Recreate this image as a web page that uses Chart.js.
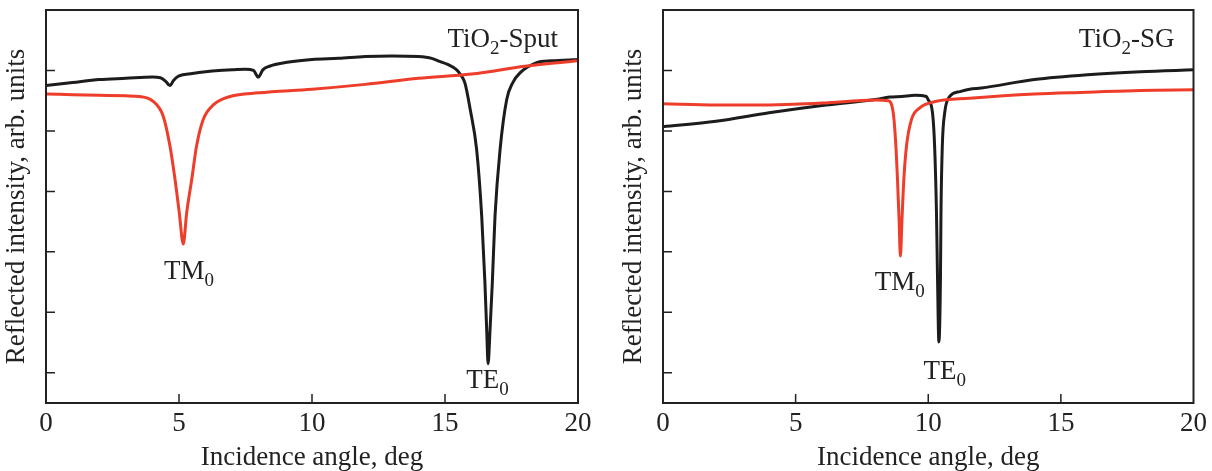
<!DOCTYPE html>
<html>
<head>
<meta charset="utf-8">
<script src="https://cdn.jsdelivr.net/npm/chart.js@4"></script>
<style>
  body { margin: 0; background: #fff; }
  .panel { position: absolute; top: 0; width: 606px; height: 471px; }
</style>
</head>
<body>
<div class="panel" style="left:0"><canvas id="sput" width="606" height="471"></canvas></div>
<div class="panel" style="left:606px"><canvas id="sg" width="606" height="471"></canvas></div>
<script>
// TiO2 sputtered film
const sputTEAngle = [0, 1, 2, 3, 4, 4.3, 4.5, 4.66, 4.8, 5.0, 5.5, 6, 6.5, 7, 7.5, 7.8, 7.98, 8.15, 8.4, 9, 10, 11, 12, 13, 14, 14.5, 14.8, 15.1, 15.44, 15.6, 15.75, 15.95, 16.19, 16.38, 16.5, 16.57, 16.62, 16.69, 16.78, 16.88, 17.07, 17.32, 17.55, 17.82, 18.45, 19, 20];
const sputTE = [4.75, 4.80, 4.85, 4.87, 4.89, 4.88, 4.82, 4.75, 4.84, 4.91, 4.95, 4.98, 5.0, 5.01, 5.02, 5.0, 4.89, 5.01, 5.07, 5.13, 5.18, 5.20, 5.23, 5.24, 5.23, 5.20, 5.15, 5.10, 5.01, 4.92, 4.79, 4.35, 3.69, 2.59, 1.50, 0.68, 0.15, 0.68, 1.50, 2.59, 3.69, 4.52, 4.80, 4.96, 5.13, 5.16, 5.18];
const sputTMAngle = [0, 1, 2, 3, 3.5, 4.03, 4.41, 4.66, 4.85, 5.01, 5.16, 5.29, 5.48, 5.66, 5.91, 6.29, 6.92, 8, 10, 12, 14, 16, 18, 20];
const sputTM = [4.61, 4.60, 4.59, 4.58, 4.57, 4.49, 4.24, 3.75, 3.20, 2.65, 2.13, 2.65, 3.20, 3.75, 4.19, 4.43, 4.57, 4.63, 4.69, 4.77, 4.87, 4.94, 5.07, 5.16];

// TiO2 sol-gel film
const sgTEAngle = [0, 2, 4, 6, 8, 8.55, 9, 9.5, 9.93, 9.99, 10.16, 10.24, 10.31, 10.35, 10.4, 10.46, 10.48, 10.53, 10.62, 10.81, 11.19, 11.56, 12, 14, 16, 18, 20];
const sgTE = [4.07, 4.16, 4.30, 4.42, 4.52, 4.56, 4.57, 4.59, 4.57, 4.52, 4.30, 3.75, 2.65, 1.55, 0.51, 1.55, 2.65, 3.75, 4.30, 4.57, 4.65, 4.69, 4.71, 4.85, 4.93, 4.98, 5.01];
const sgTMAngle = [0, 2, 4, 6, 8, 8.48, 8.68, 8.78, 8.84, 8.9, 8.95, 9.01, 9.08, 9.18, 9.37, 9.68, 10.31, 11.56, 14, 16, 18, 20];
const sgTM = [4.45, 4.43, 4.43, 4.46, 4.51, 4.50, 4.30, 3.75, 3.20, 2.54, 1.93, 2.54, 3.20, 3.75, 4.19, 4.38, 4.49, 4.54, 4.61, 4.64, 4.67, 4.68];

const xTicks = [5, 10, 15];
const yTicks = [0, 1, 2, 3, 4, 5];

const FONT = "'Liberation Serif', 'Times New Roman', serif";
const INK = '#222';
const RED = '#ee3d2a';
const BLACK = '#1c1c1c';

function points(xs, ys) {
  return xs.map((x, i) => ({ x: x, y: ys[i] }));
}

// text with a subscript, anchored in data units
function drawNote(ctx, chart, n) {
  const px = chart.scales.x.getPixelForValue(n.x);
  const py = chart.scales.y.getPixelForValue(n.y);
  const big = '27px ' + FONT;
  const small = '19px ' + FONT;
  ctx.font = big;
  const w1 = ctx.measureText(n.text).width;
  const w3 = n.rest ? ctx.measureText(n.rest).width : 0;
  ctx.font = small;
  const w2 = ctx.measureText(n.sub).width;
  const total = w1 + w2 + w3;
  let x0 = px;
  if (n.align === 'center') x0 = px - total / 2;
  if (n.align === 'right') x0 = px - total;
  ctx.textAlign = 'left';
  ctx.textBaseline = 'alphabetic';
  ctx.fillStyle = INK;
  ctx.font = big;
  ctx.fillText(n.text, x0, py);
  ctx.font = small;
  ctx.fillText(n.sub, x0 + w1, py + 7);
  if (n.rest) {
    ctx.font = big;
    ctx.fillText(n.rest, x0 + w1 + w2, py);
  }
}

function framePlugin(notes) {
  return {
    id: 'frame',
    afterDraw(chart) {
      const { ctx, chartArea: a, scales: { x, y } } = chart;
      ctx.save();
      ctx.strokeStyle = INK;
      ctx.lineWidth = 2;
      ctx.strokeRect(a.left, a.top, a.right - a.left, a.bottom - a.top);
      ctx.lineWidth = 1.5;
      ctx.beginPath();
      yTicks.forEach(v => {
        const p = y.getPixelForValue(v);
        ctx.moveTo(a.left, p);
        ctx.lineTo(a.left + 9, p);
      });
      xTicks.forEach(v => {
        const p = x.getPixelForValue(v);
        ctx.moveTo(p, a.bottom);
        ctx.lineTo(p, a.bottom - 9);
      });
      ctx.stroke();
      notes.forEach(n => drawNote(ctx, chart, n));
      ctx.restore();
    }
  };
}

function makePanel(id, te, tm, notes, padLeft, padRight) {
  return new Chart(document.getElementById(id), {
    type: 'line',
    data: {
      datasets: [
        { label: 'TM', data: tm, borderColor: RED, borderWidth: 3, pointRadius: 0, cubicInterpolationMode: 'monotone' },
        { label: 'TE', data: te, borderColor: BLACK, borderWidth: 3, pointRadius: 0, cubicInterpolationMode: 'monotone' }
      ]
    },
    options: {
      responsive: false,
      animation: false,
      layout: { padding: { top: 10, left: padLeft, right: padRight, bottom: 0 } },
      plugins: { legend: { display: false }, tooltip: { enabled: false } },
      scales: {
        x: {
          type: 'linear', min: 0, max: 20,
          grid: { display: false, drawTicks: false },
          border: { display: false },
          ticks: { stepSize: 5, color: INK, font: { family: FONT, size: 27 }, padding: 5 },
          title: { display: true, text: 'Incidence angle, deg', color: INK, font: { family: FONT, size: 27 }, padding: { top: 0, bottom: -3 } },
          afterFit(scale) { scale.height = 68; }
        },
        y: {
          min: -0.5, max: 6,
          grid: { display: false, drawTicks: false },
          border: { display: false },
          ticks: { display: false },
          title: { display: true, text: 'Reflected intensity, arb. units', color: INK, font: { family: FONT, size: 27 }, padding: { top: 1, bottom: 0 } },
          afterFit(scale) { scale.width = 46; }
        }
      }
    },
    plugins: [framePlugin(notes)]
  });
}

makePanel('sput', points(sputTEAngle, sputTE), points(sputTMAngle, sputTM), [
  { text: 'TiO', sub: '2', rest: '-Sput', x: 19.25, y: 5.38, align: 'right' },
  { text: 'TM', sub: '0', x: 5.38, y: 1.55, align: 'center' },
  { text: 'TE', sub: '0', x: 16.6, y: -0.25, align: 'center' }
], 0, 28);

makePanel('sg', points(sgTEAngle, sgTE), points(sgTMAngle, sgTM), [
  { text: 'TiO', sub: '2', rest: '-SG', x: 19.28, y: 5.38, align: 'right' },
  { text: 'TM', sub: '0', x: 8.93, y: 1.37, align: 'center' },
  { text: 'TE', sub: '0', x: 10.62, y: -0.10, align: 'center' }
], 11, 18);
</script>
</body>
</html>
